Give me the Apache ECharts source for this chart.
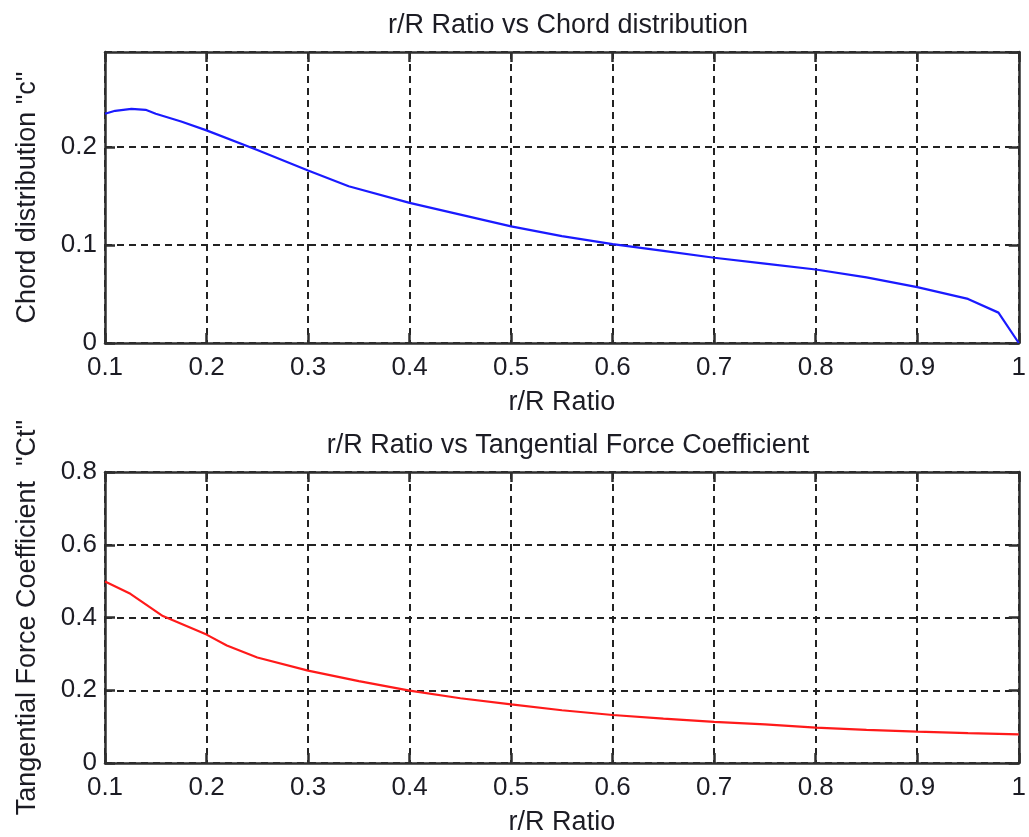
<!DOCTYPE html>
<html>
<head>
<meta charset="utf-8">
<title>r/R Ratio charts</title>
<script src="https://cdn.jsdelivr.net/npm/echarts@6/dist/echarts.min.js"></script>
<style>
  html, body { margin: 0; padding: 0; background: #fff; }
  #chart { width: 1029px; height: 837px; }
</style>
</head>
<body>
<div id="chart"></div>
<script>
// r/R ratio positions and values
const rChord = [0.10, 0.11, 0.126, 0.14, 0.15, 0.175, 0.20, 0.25, 0.30, 0.34, 0.40, 0.45, 0.50, 0.55, 0.60, 0.65, 0.70, 0.75, 0.80, 0.85, 0.90, 0.95, 0.98, 1.00];
const chordVals = [0.234, 0.237, 0.239, 0.238, 0.234, 0.226, 0.217, 0.197, 0.176, 0.160, 0.143, 0.131, 0.119, 0.109, 0.101, 0.094, 0.087, 0.081, 0.075, 0.067, 0.057, 0.045, 0.031, 0.0];

const rCt = [0.10, 0.125, 0.1376, 0.157, 0.20, 0.22, 0.25, 0.30, 0.35, 0.40, 0.45, 0.50, 0.55, 0.60, 0.65, 0.70, 0.75, 0.80, 0.85, 0.90, 0.95, 1.00];
const ctVals = [0.499, 0.465, 0.441, 0.404, 0.353, 0.323, 0.290, 0.254, 0.225, 0.199, 0.178, 0.161, 0.145, 0.132, 0.122, 0.113, 0.106, 0.097, 0.091, 0.086, 0.082, 0.0785];

const xTicks = { min: 0.1, max: 1, interval: 0.1 };
const chordAxis = { min: 0, max: 0.297, interval: 0.1 };
const ctAxis = { min: 0, max: 0.8, interval: 0.2 };

const FONT = '"Liberation Sans", Arial, sans-serif';
const TXT = '#1c1c24';
const AX = '#2e2e2e';
const GRIDLINE = { color: '#222', width: 2, type: [7, 5] };

const fmt = (v) => String(+v.toFixed(2));

function xMain(gridIndex) {
  return {
    type: 'value', gridIndex, ...xTicks,
    name: 'r/R Ratio', nameLocation: 'middle', nameGap: 46,
    nameTextStyle: { fontFamily: FONT, fontSize: 27, color: TXT },
    axisLine: { show: true, onZero: false, lineStyle: { color: AX, width: 2.5 } },
    axisTick: { show: true, inside: true, length: 10, lineStyle: { color: AX, width: 2.5 } },
    axisLabel: { fontFamily: FONT, fontSize: 26, color: TXT, margin: 12, formatter: fmt },
    splitLine: { show: true, lineStyle: GRIDLINE },
  };
}
function xTop(gridIndex) {
  return {
    type: 'value', gridIndex, position: 'top', ...xTicks,
    axisLine: { show: true, onZero: false, lineStyle: { color: AX, width: 2.5 } },
    axisTick: { show: true, inside: true, length: 10, lineStyle: { color: AX, width: 2.5 } },
    axisLabel: { show: false }, splitLine: { show: false },
  };
}
function yMain(gridIndex, range, name) {
  return {
    type: 'value', gridIndex, ...range,
    name, nameLocation: 'middle', nameGap: 64,
    nameTextStyle: { fontFamily: FONT, fontSize: 27, color: TXT },
    axisLine: { show: true, onZero: false, lineStyle: { color: AX, width: 2.5 } },
    axisTick: { show: true, inside: true, length: 10, lineStyle: { color: AX, width: 2.5 } },
    axisLabel: { fontFamily: FONT, fontSize: 26, color: TXT, margin: 8, showMaxLabel: range.max === 0.8, formatter: fmt },
    splitLine: { show: true, lineStyle: GRIDLINE },
  };
}
function yRight(gridIndex, range) {
  return {
    type: 'value', gridIndex, position: 'right', ...range,
    axisLine: { show: true, onZero: false, lineStyle: { color: AX, width: 2.5 } },
    axisTick: { show: true, inside: true, length: 10, lineStyle: { color: AX, width: 2.5 } },
    axisLabel: { show: false }, splitLine: { show: false },
  };
}

const option = {
  animation: false,
  backgroundColor: '#fff',
  title: [
    { text: 'r/R Ratio vs Chord distribution', left: 563, top: 7, textAlign: 'center',
      textStyle: { fontFamily: FONT, fontSize: 27, fontWeight: 'normal', color: TXT } },
    { text: 'r/R Ratio vs Tangential Force Coefficient', left: 563, top: 427, textAlign: 'center',
      textStyle: { fontFamily: FONT, fontSize: 27, fontWeight: 'normal', color: TXT } },
  ],
  grid: [
    { left: 105, right: 7, top: 52, height: 291 },
    { left: 105, right: 7, top: 472, height: 291 },
  ],
  xAxis: [xMain(0), xTop(0), xMain(1), xTop(1)],
  yAxis: [
    yMain(0, chordAxis, 'Chord distribution "c"'), yRight(0, chordAxis),
    yMain(1, ctAxis, 'Tangential Force Coefficient  "Ct"'), yRight(1, ctAxis),
  ],
  series: [
    {
      type: 'line', xAxisIndex: 0, yAxisIndex: 0, showSymbol: false,
      lineStyle: { color: '#1a1aff', width: 2.2 },
      data: rChord.map((r, i) => [r, chordVals[i]]),
    },
    {
      type: 'line', xAxisIndex: 2, yAxisIndex: 2, showSymbol: false,
      lineStyle: { color: '#ff1a1a', width: 2.2 },
      data: rCt.map((r, i) => [r, ctVals[i]]),
    },
  ],
};

const myChart = echarts.init(document.getElementById('chart'));
myChart.setOption(option);
</script>
</body>
</html>
